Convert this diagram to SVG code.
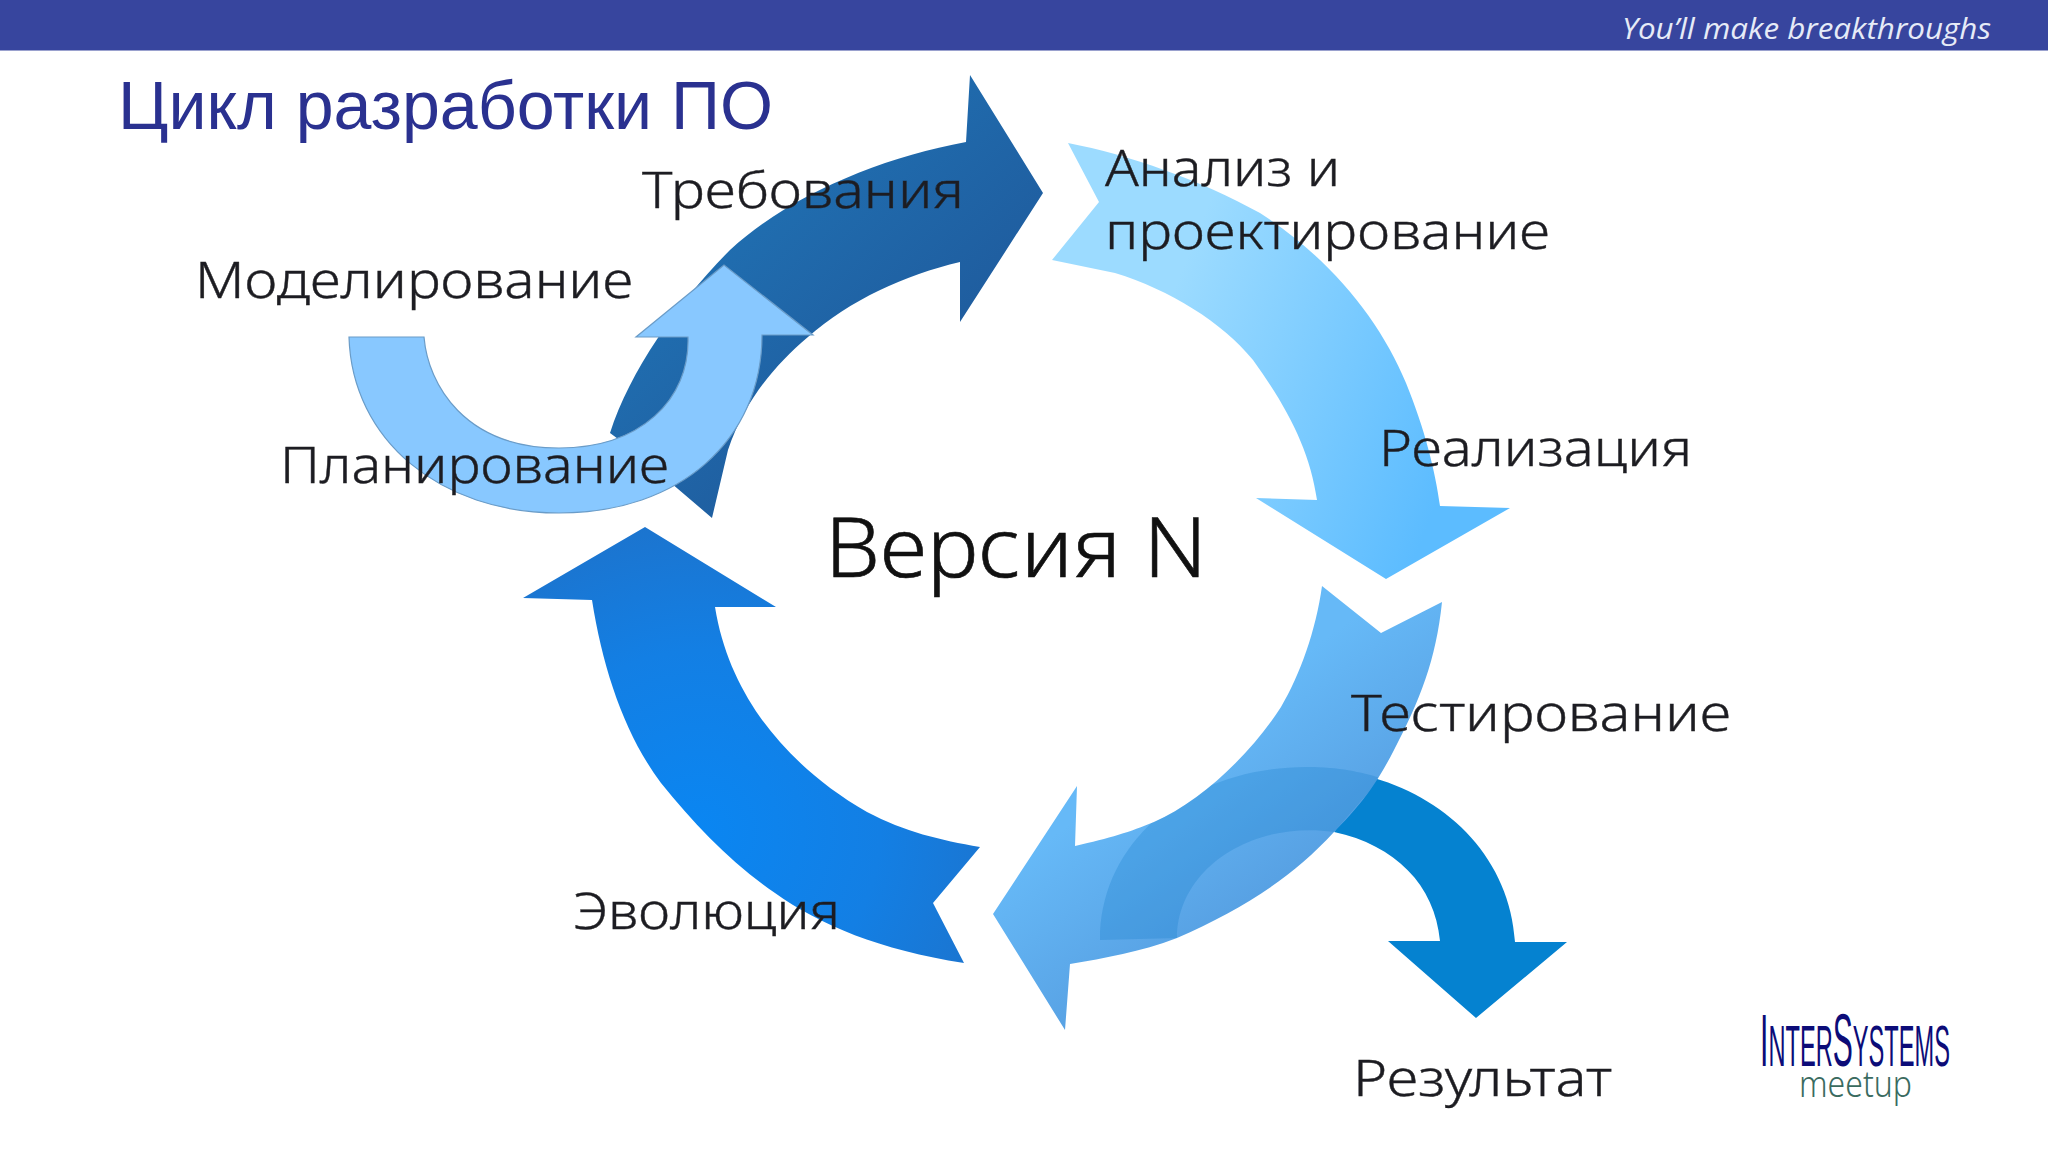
<svg xmlns="http://www.w3.org/2000/svg" width="2048" height="1152" viewBox="0 0 2048 1152">
<defs>
<style>
.lb{font-family:"Noto Sans","DejaVu Sans",sans-serif;font-size:50px;fill:#1f1f22;font-weight:300;stroke:#1f1f22;stroke-width:0.4}
</style>
<filter id="soft" x="-5%" y="-10%" width="110%" height="125%"><feGaussianBlur stdDeviation="0.6"/></filter>
<linearGradient id="gDark" gradientUnits="userSpaceOnUse" x1="800" y1="120" x2="1010" y2="340"><stop offset="0" stop-color="#2070b2"/><stop offset="1" stop-color="#1f5a9c"/></linearGradient>
<linearGradient id="gAn" gradientUnits="userSpaceOnUse" x1="1170" y1="300" x2="1470" y2="420"><stop offset="0" stop-color="#9cdbff"/><stop offset="1" stop-color="#5cbcff"/></linearGradient>
<linearGradient id="gTest" gradientUnits="userSpaceOnUse" x1="1130" y1="780" x2="1290" y2="1000"><stop offset="0" stop-color="#66b9f7"/><stop offset="1" stop-color="#4f93d8"/></linearGradient>
<radialGradient id="gEvo" gradientUnits="userSpaceOnUse" cx="700" cy="830" r="360"><stop offset="0" stop-color="#0a86f2"/><stop offset="0.5" stop-color="#137fe4"/><stop offset="1" stop-color="#1f70c6"/></radialGradient>
<clipPath id="testClip"><path d="M1322 586L1381 633L1442 602C1436 660 1420 700 1394 750C1375 787 1358 808 1334 832C1290 880 1240 910 1177 938C1140 952 1105 958 1070 964L1065 1030L993 914L1077 786L1075 846C1110 838 1130 832 1154 822C1200 802 1250 755 1281 707C1300 675 1316 630 1322 586Z"/></clipPath>
</defs>
<rect width="2048" height="1152" fill="#ffffff"/>
<rect id="header-bar" width="2048" height="50.5" fill="#37459e"/>
<text x="1622" y="39" textLength="369" lengthAdjust="spacingAndGlyphs" font-family="'Open Sans','Noto Sans',sans-serif" font-style="italic" font-size="29" fill="#e6ebf7">You’ll make breakthroughs</text>
<text x="118" y="129" textLength="655" lengthAdjust="spacingAndGlyphs" font-family="'Liberation Sans',Arial,sans-serif" font-size="68" fill="#2a3190">Цикл разработки ПО</text>

<g id="connectors">
<path id="arrow-requirements" fill="url(#gDark)" d="M1043 193L970 75L966 142C880 158 790 195 730 250C680 300 630 370 610 433L660 470L671 483L712 518L728 450C745 400 775 365 808 337C850 300 905 275 960 262L960 322Z"/>
<path id="arrow-modeling" fill="#88c8ff" stroke="#6a9cc8" stroke-width="1.2" d="M349 337H424C428 385 465 448 559 448C640 448 690 400 688 337H636L724 265L813 335H762C762 440 680 513 559 513C440 513 352 440 349 337Z"/>
<path id="arrow-analysis" fill="url(#gAn)" d="M1068 143C1130 155 1200 180 1260 213C1330 258 1380 320 1406 383C1425 430 1435 470 1440 506L1510 508L1386 579L1256 498L1317 500C1310 450 1287 407 1253 360C1222 322 1170 290 1115 273L1052 260L1099 202Z"/>
<path id="arrow-result" fill="#0582d0" d="M1374 778C1450 800 1510 860 1515 942L1567 942L1476 1018L1388 941L1440 941C1435 885 1395 845 1334 832Z"/>
<path id="arrow-testing" fill="url(#gTest)" d="M1322 586L1381 633L1442 602C1436 660 1420 700 1394 750C1375 787 1358 808 1334 832C1290 880 1240 910 1177 938C1140 952 1105 958 1070 964L1065 1030L993 914L1077 786L1075 846C1110 838 1130 832 1154 822C1200 802 1250 755 1281 707C1300 675 1316 630 1322 586Z"/>
<path id="arrow-overlap" clip-path="url(#testClip)" fill="#0a76c8" fill-opacity="0.25" d="M1100 940C1100 840 1190 767 1307 767C1340 767 1360 772 1381 778L1334 832C1250 820 1177 870 1177 938Z"/>
<path id="arrow-evolution" fill="url(#gEvo)" d="M645 527L776 607L715 607C722 650 738 685 760 717C785 752 820 785 867 812C905 832 940 840 980 847L933 903L964 963C880 950 820 925 775 893C730 862 695 825 661 783C625 735 603 670 592 600L523 598Z"/>
</g>

<g id="node-requirements"><text class="lb" filter="url(#soft)" x="642" y="208" textLength="322" lengthAdjust="spacingAndGlyphs">Требования</text></g>
<g id="node-modeling"><text class="lb" filter="url(#soft)" x="195" y="298" textLength="438" lengthAdjust="spacingAndGlyphs">Моделирование</text></g>
<g id="node-planning"><text class="lb" filter="url(#soft)" x="280" y="483" textLength="389" lengthAdjust="spacingAndGlyphs">Планирование</text></g>
<g id="node-analysis"><text class="lb" filter="url(#soft)" x="1105" y="186" textLength="235" lengthAdjust="spacingAndGlyphs">Анализ и</text><text class="lb" filter="url(#soft)" x="1105" y="249" textLength="445" lengthAdjust="spacingAndGlyphs">проектирование</text></g>
<g id="node-implementation"><text class="lb" filter="url(#soft)" x="1379" y="466" textLength="313" lengthAdjust="spacingAndGlyphs">Реализация</text></g>
<g id="node-testing"><text class="lb" filter="url(#soft)" x="1351" y="731" textLength="380" lengthAdjust="spacingAndGlyphs">Тестирование</text></g>
<g id="node-result"><text class="lb" filter="url(#soft)" x="1353" y="1096" textLength="259" lengthAdjust="spacingAndGlyphs">Результат</text></g>
<g id="node-evolution"><text class="lb" filter="url(#soft)" x="573" y="929" textLength="267" lengthAdjust="spacingAndGlyphs">Эволюция</text></g>
<g id="node-version"><text x="825" y="577" textLength="382" lengthAdjust="spacingAndGlyphs" font-family="'Noto Sans','DejaVu Sans',sans-serif" font-size="82" font-weight="300" stroke="#111" stroke-width="0.6" fill="#111">Версия N</text></g>

<g id="logo">
<text x="1760" y="1066" textLength="190" lengthAdjust="spacingAndGlyphs" font-family="'Liberation Sans',Arial,sans-serif" fill="#0c0c78" font-size="58"><tspan font-size="74">I</tspan>NTER<tspan font-size="74">S</tspan>YSTEMS</text>
<text x="1799" y="1097" textLength="113" lengthAdjust="spacingAndGlyphs" font-family="'Noto Sans',sans-serif" font-weight="300" font-size="36" fill="#3a6b5f">meetup</text>
</g>
</svg>
